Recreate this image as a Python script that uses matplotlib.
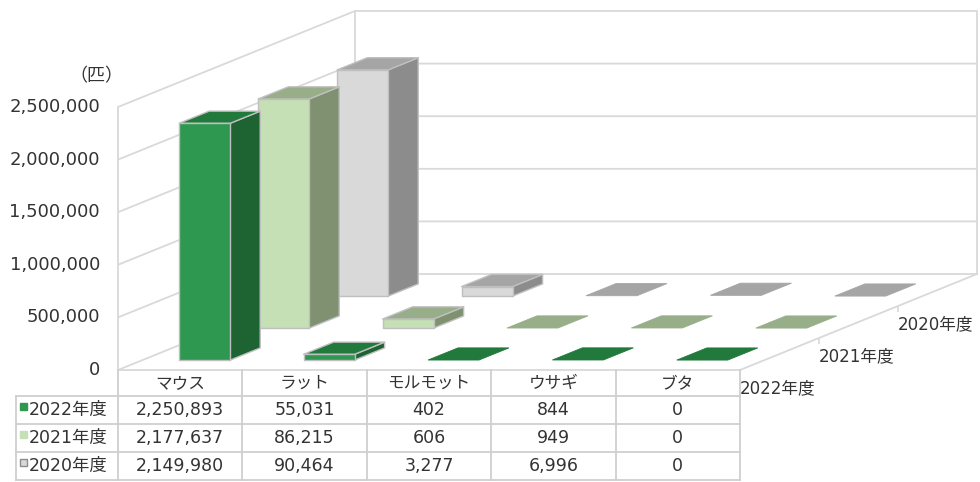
import matplotlib
matplotlib.use("Agg")
import matplotlib.pyplot as plt
import matplotlib.markers as mmarkers
from matplotlib.patches import Polygon, Rectangle
from matplotlib import transforms

plt.rcParams['font.family'] = ['DejaVu Sans', 'Noto Sans CJK JP']

# ---- data -------------------------------------------------------------
categories = ["マウス", "ラット", "モルモット", "ウサギ", "ブタ"]
series_names = ["2022年度", "2021年度", "2020年度"]
counts_2022 = [2250893, 55031, 402, 844, 0]
counts_2021 = [2177637, 86215, 606, 949, 0]
counts_2020 = [2149980, 90464, 3277, 6996, 0]
y_ticks = [0, 500000, 1000000, 1500000, 2000000, 2500000]
unit_label = "（匹）"

series_values = [counts_2022, counts_2021, counts_2020]

# ---- style ------------------------------------------------------------
front_colors = ["#2e9850", "#c5e0b4", "#d9d9d9"]
side_colors = ["#1e6433", "#7f9170", "#8c8c8c"]
top_colors = ["#217a3c", "#97ae88", "#a5a5a5"]
edge_color = "#bfbfbf"
grid_color = "#d9d9d9"
table_line = "#cfcfcf"
text_color = "#333333"

W, H = 980, 482
fig = plt.figure(figsize=(W / 100, H / 100), dpi=100)
ax = fig.add_axes([0, 0, 1, 1])
ax.axis("off")

# scale: one category = 124.4 px, value axis 0..2.5M = 263 px
cat_px = 124.4
ymax = y_ticks[-1]
val_px = 263 / ymax
origin_x, origin_y = 118, H - 370
ax.set_xlim(-origin_x / cat_px, (W - origin_x) / cat_px)
ax.set_ylim(-origin_y / val_px, (H - origin_y) / val_px)

# oblique depth direction for the full floor depth
DX = 237 / cat_px
DY = 96 / val_px
n_cat = len(categories)
n_ser = len(series_names)


def proj(c, v, d):
    return (c + d * DX, v + d * DY)


# ---- walls & gridlines -----------------------------------------------
for v in y_ticks:
    xs, ys = zip(proj(0, v, 0), proj(0, v, 1), proj(n_cat, v, 1))
    ax.plot(xs, ys, color=grid_color, lw=1.3, zorder=1, solid_capstyle="butt")
# left wall front edge, back wall vertical edges, floor edges
for pts in [(proj(0, 0, 0), proj(0, ymax, 0)),
            (proj(0, 0, 1), proj(0, ymax, 1)),
            (proj(n_cat, 0, 1), proj(n_cat, ymax, 1)),
            (proj(n_cat, 0, 0), proj(n_cat, 0, 1)),
            (proj(0, 0, 0), proj(n_cat, 0, 0))]:
    xs, ys = zip(*pts)
    ax.plot(xs, ys, color=grid_color, lw=1.3, zorder=1)

# depth-axis tick marks
for k in range(1, n_ser):
    px, py = proj(n_cat, 0, k / n_ser)
    ax.plot([px], [py], marker=mmarkers.TICKDOWN, ms=4, color=grid_color,
            mew=1.2, zorder=1)

# ---- bars -------------------------------------------------------------
bar_w = 0.41
bar_d = 0.38
for r in reversed(range(n_ser)):
    d0 = (r + (1 - bar_d) / 2) / n_ser
    d1 = (r + (1 + bar_d) / 2) / n_ser
    for i in reversed(range(n_cat)):
        v = series_values[r][i]
        x0 = i + (1 - bar_w) / 2
        x1 = i + (1 + bar_w) / 2
        top = [proj(x0, v, d0), proj(x1, v, d0), proj(x1, v, d1), proj(x0, v, d1)]
        if v < 0.005 * ymax:
            ax.add_patch(Polygon(top, closed=True, fc=top_colors[r],
                                 ec=top_colors[r], lw=0.6, zorder=3))
            continue
        front = [proj(x0, 0, d0), proj(x1, 0, d0), proj(x1, v, d0), proj(x0, v, d0)]
        side = [proj(x1, 0, d0), proj(x1, 0, d1), proj(x1, v, d1), proj(x1, v, d0)]
        for poly, col in [(side, side_colors[r]), (top, top_colors[r]),
                          (front, front_colors[r])]:
            ax.add_patch(Polygon(poly, closed=True, fc=col, ec=edge_color,
                                 lw=1.0, joinstyle="round", zorder=3))

# ---- value axis labels ------------------------------------------------
for v in y_ticks:
    ax.annotate(f"{v:,}", xy=(0, v), xytext=(-18, 0), textcoords="offset pixels",
                ha="right", va="center", fontsize=13, color=text_color)
ax.annotate(unit_label, xy=(0, ymax), xytext=(-22, 31), textcoords="offset pixels",
            ha="center", va="center", fontsize=13, color=text_color,
            family=["Noto Sans CJK JP", "DejaVu Sans"])

# ---- depth-axis labels ------------------------------------------------
for r, name in enumerate(series_names):
    ax.annotate(name, xy=proj(n_cat, 0, r / n_ser), xytext=(0, -18),
                textcoords="offset pixels", ha="left", va="center",
                fontsize=12, color=text_color)

# ---- data table -------------------------------------------------------
tab = fig.add_axes([0, 0, 1, 1], zorder=2)
tab.set_xlim(0, W)
tab.set_ylim(H, 0)
tab.axis("off")
tab.patch.set_alpha(0)
bt = transforms.blended_transform_factory(ax.transData, tab.transData)

header_top, header_bot = 370, 396
row_h = 28
row_tops = [header_bot + k * row_h for k in range(n_ser)]
table_bot = header_bot + n_ser * row_h
label_left = 16

for i in range(n_cat + 1):
    tab.plot([i, i], [header_top, table_bot], color=table_line, lw=1.3,
             transform=bt)
tab.plot([label_left, label_left], [header_bot, table_bot], color=table_line, lw=1.3)
for y in row_tops + [table_bot]:
    tab.plot([label_left, origin_x + n_cat * cat_px], [y, y], color=table_line, lw=1.3)

for i, c in enumerate(categories):
    tab.text(i + 0.5, (header_top + header_bot) / 2, c, transform=bt,
             ha="center", va="center", fontsize=12, color=text_color)

for r, name in enumerate(series_names):
    yc = row_tops[r] + row_h / 2
    tab.add_patch(Rectangle((20, yc - 7), 7, 7, fc=front_colors[r],
                            ec=side_colors[r] if r == 2 else front_colors[r], lw=1))
    tab.text(29, yc, name, ha="left", va="center", fontsize=12.5, color=text_color)
    for i, v in enumerate(series_values[r]):
        tab.text(i + 0.5, yc, f"{v:,}", transform=bt, ha="center", va="center",
                 fontsize=12.5, color=text_color)

fig.savefig("out.png", dpi=100, facecolor="white")
